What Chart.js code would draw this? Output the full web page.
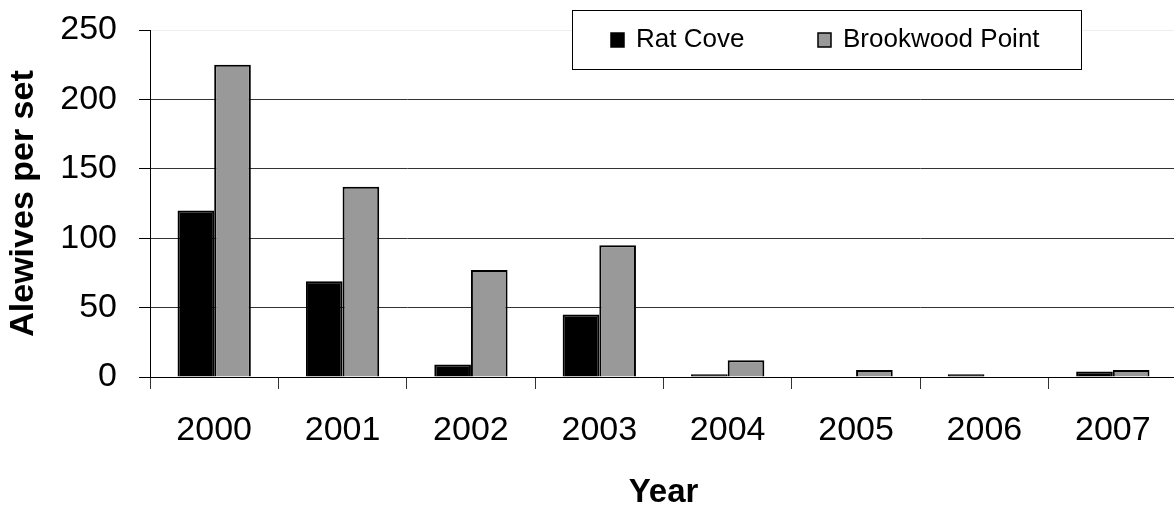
<!DOCTYPE html>
<html>
<head>
<meta charset="utf-8">
<script src="https://cdn.jsdelivr.net/npm/chart.js@4.4.1/dist/chart.umd.min.js"></script>
<style>
  html, body { margin: 0; padding: 0; background: #fff; overflow: hidden; }
  #wrap { width: 1177px; height: 515px; position: relative; }
</style>
</head>
<body>
<div id="wrap"><canvas id="chart"></canvas></div>
<script>
// --- data ---
const years = ['2000', '2001', '2002', '2003', '2004', '2005', '2006', '2007'];
const ratCove = [120, 69, 9, 45, 2, 0, 2, 4];
const brookwoodPoint = [225, 137, 77, 95, 12, 5, 0, 5];
const yTicks = [0, 50, 100, 150, 200, 250];

const FONT = '"Liberation Sans", Arial, Helvetica, sans-serif';

// legend with a box round it, like the original
const boxLegend = {
  id: 'boxLegend',
  afterDraw(chart) {
    const ctx = chart.ctx;
    const bx = 572, by = 10, bw = 509, bh = 59;
    ctx.save();
    ctx.fillStyle = '#fff';
    ctx.fillRect(bx, by, bw, bh);
    ctx.strokeStyle = '#000';
    ctx.lineWidth = 1;
    ctx.strokeRect(bx + 0.5, by + 0.5, bw, bh);

    const items = [
      { x: 611, ds: chart.data.datasets[0] },
      { x: 818, ds: chart.data.datasets[1] }
    ];
    ctx.font = '26px ' + FONT;
    ctx.textBaseline = 'middle';
    items.forEach(it => {
      ctx.fillStyle = it.ds.backgroundColor;
      ctx.fillRect(it.x, 33, 13, 14);
      ctx.strokeStyle = '#000';
      ctx.lineWidth = 1.5;
      ctx.strokeRect(it.x, 33, 13, 14);
      ctx.fillStyle = '#000';
      ctx.fillText(it.ds.label, it.x + 25, 40);
    });
    ctx.restore();
  }
};

const ctx = document.getElementById('chart').getContext('2d');
new Chart(ctx, {
  type: 'bar',
  data: {
    labels: years,
    datasets: [
      { label: 'Rat Cove', data: ratCove, backgroundColor: '#000000', borderColor: '#000', borderWidth: 2 },
      { label: 'Brookwood Point', data: brookwoodPoint, backgroundColor: '#999999', borderColor: '#000', borderWidth: 2 }
    ]
  },
  options: {
    responsive: true,
    maintainAspectRatio: false,
    animation: false,
    datasets: { bar: { barPercentage: 1, categoryPercentage: 0.571 } },
    layout: { padding: { top: 30, right: 0, bottom: 0, left: 0 } },
    plugins: {
      legend: { display: false },
      tooltip: { enabled: false }
    },
    scales: {
      x: {
        offset: true,
        grid: { drawOnChartArea: false, tickLength: 12, color: '#333', offset: true },
        border: { color: '#000', width: 1 },
        ticks: { color: '#000', padding: 21, font: { family: FONT, size: 34 } },
        title: { display: true, text: 'Year', color: '#000', padding: { bottom: 2 }, font: { family: FONT, size: 33, weight: 'bold' } },
        afterFit(scale) { scale.height = 138; }
      },
      y: {
        min: 0,
        max: 250,
        afterBuildTicks(scale) { scale.ticks = yTicks.map(v => ({ value: v })); },
        grid: {
          tickLength: 11,
          color: c => (c.tick && c.tick.value === 250) ? '#eeeeee' : '#333',
          tickColor: '#000'
        },
        border: { color: '#000', width: 1 },
        ticks: { color: '#000', padding: 22, font: { family: FONT, size: 34 } },
        title: { display: true, text: 'Alewives per set', color: '#000', padding: { top: 3 }, font: { family: FONT, size: 34, weight: 'bold' } },
        afterFit(scale) {
          scale.width = 150;
          scale.paddingTop = 0;
          scale.paddingBottom = 0;
        }
      }
    }
  },
  plugins: [boxLegend]
});
</script>
</body>
</html>
